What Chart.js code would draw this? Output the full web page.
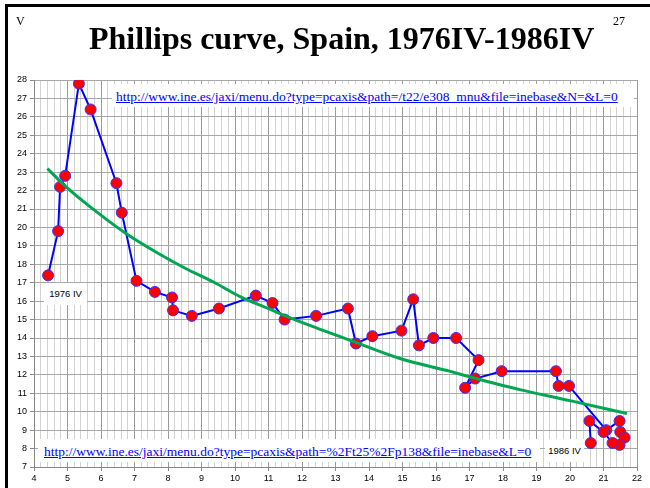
<!DOCTYPE html>
<html>
<head>
<meta charset="utf-8">
<title>Phillips curve, Spain, 1976IV-1986IV</title>
<script src="https://cdn.jsdelivr.net/npm/chart.js@4.4.1/dist/chart.umd.min.js"></script>
<style>
    body { margin: 0; background: #fff; }
    #slide { position: relative; width: 650px; height: 488px; overflow: hidden; background: #fff; }
    #slide canvas { position: absolute; left: 0; top: 0; }
    .frameTop { position: absolute; left: 5px; top: 4px; width: 645px; height: 3px; background: #000; }
    .frameLeft { position: absolute; left: 5px; top: 4px; width: 3px; height: 484px; background: #000; }
    #title { position: absolute; left: 89px; top: 22px; font: bold 32px "Liberation Serif", serif; line-height: 1; white-space: nowrap; color: #000; }
    .corner { position: absolute; top: 15px; font: 12px "Liberation Serif", serif; line-height: 1; color: #000; }
    .urlBox { position: absolute; background: #fff; height: 23px; line-height: 23px; white-space: nowrap; }
    .urlBox a { font: 13.5px "Liberation Serif", serif; color: #0000ff; text-decoration: underline; }
    .tag { position: absolute; background: #fff; text-align: center; font: 9.5px "Liberation Sans", Arial, sans-serif; color: #000; }
</style>
</head>
<body>
<div id="slide">
    <canvas id="phillips" width="650" height="488"></canvas>
    <div class="frameTop"></div>
    <div class="frameLeft"></div>
    <div class="corner" style="left:16px">V</div>
    <div class="corner" style="left:613px">27</div>
    <div id="title">Phillips curve, Spain, 1976IV-1986IV</div>
    <div class="urlBox" style="left:112px; top:84px; width:522px; padding-left:4px; box-sizing:border-box">
        <a href="#">http://www.ine.es/jaxi/menu.do?type=pcaxis&amp;path=/t22/e308_mnu&amp;file=inebase&amp;N=&amp;L=0</a>
    </div>
    <div class="urlBox" style="left:38px; top:439px; width:502px; padding-left:6px; box-sizing:border-box">
        <a href="#">http://www.ine.es/jaxi/menu.do?type=pcaxis&amp;path=%2Ft25%2Fp138&amp;file=inebase&amp;L=0</a>
    </div>
    <div class="tag" style="left:44px; top:283px; width:43px; height:22px; line-height:22px">1976 IV</div>
    <div class="tag" style="left:545px; top:439px; width:39px; height:23px; line-height:23px">1986 IV</div>
</div>
<script>
// unemployment rate (%), quarterly 1976 IV .. 1986 IV, in plotting order
const unemployment = [4.42, 4.72, 4.78, 4.93, 5.34, 5.69, 6.46, 6.62, 7.06, 7.61,
    8.12, 8.15, 8.71, 9.52, 10.62, 11.12, 11.48, 12.42, 13.37, 13.61,
    14.10, 14.97, 15.32, 15.49, 15.92, 16.60, 17.27, 16.87, 17.17, 17.96,
    19.58, 19.66, 19.97, 21.08, 21.48, 21.50, 21.63, 21.48, 21.27, 21.00,
    20.58, 20.62];
// inflation rate (%), same quarters
const inflation = [17.4, 19.8, 22.2, 22.8, 27.8, 26.4, 22.4, 20.8, 17.1, 16.5,
    16.2, 15.5, 15.2, 15.6, 16.3, 15.9, 15.0, 15.2, 15.6, 13.7,
    14.1, 14.4, 16.1, 13.6, 14.0, 14.0, 12.8, 11.3, 11.8, 12.2,
    12.2, 11.4, 11.4, 9.0, 9.5, 8.9, 8.6, 8.2, 8.3, 8.9,
    9.5, 8.3];

// green fitted curve
const fitX = [4.4, 4.9, 5.9, 6.8, 7.7, 8.5, 9.4, 10.2, 11.0, 11.5, 12.5, 13.4, 14.9, 16.4, 17.0, 18.5, 20.0, 21.7];
const fitY = [23.2, 22.3, 20.8, 19.6, 18.6, 17.8, 17.0, 16.2, 15.6, 15.2, 14.5, 13.9, 12.9, 12.2, 11.9, 11.2, 10.6, 9.9];

// axis ranges
const xRange = [4, 22];
const yRange = [7, 28];

const observed = unemployment.map((u, i) => ({x: u, y: inflation[i]}));
const fitted = fitX.map((x, i) => ({x: x, y: fitY[i]}));

function isWhole(v) {
    return Math.abs(v - Math.round(v)) < 1e-6;
}

const tickFont = {family: '"Liberation Sans", Arial, sans-serif', size: 9};

const ctx = document.getElementById('phillips').getContext('2d');
const chart = new Chart(ctx, {
    type: 'scatter',
    data: {
        datasets: [{
            // first dataset is painted on top
            data: fitted,
            showLine: true,
            borderColor: '#00a651',
            borderWidth: 3,
            pointRadius: 0,
            cubicInterpolationMode: 'monotone'
        }, {
            data: observed,
            showLine: true,
            borderColor: '#0000ff',
            borderWidth: 2,
            pointRadius: 5.5,
            pointBackgroundColor: '#ff0000',
            pointBorderColor: '#3333ff',
            pointBorderWidth: 1
        }]
    },
    options: {
        responsive: false,
        animation: false,
        devicePixelRatio: 1,
        layout: {
            padding: {top: 80, right: 13, left: 0, bottom: 0}
        },
        plugins: {
            legend: {display: false},
            tooltip: {enabled: false},
            title: {display: false}
        },
        scales: {
            x: {
                type: 'linear',
                min: xRange[0],
                max: xRange[1],
                afterFit: scale => { scale.height = 21; },
                border: {color: '#888'},
                grid: {
                    color: c => isWhole(c.tick.value) ? '#9a9a9a' : '#d2d2d2',
                    tickColor: c => isWhole(c.tick.value) ? '#888' : 'rgba(0,0,0,0)',
                    tickLength: 4
                },
                ticks: {
                    stepSize: 0.2,
                    autoSkip: false,
                    maxRotation: 0,
                    padding: 2,
                    color: '#000',
                    font: tickFont,
                    callback: v => isWhole(v) ? Math.round(v) : ''
                }
            },
            y: {
                min: yRange[0],
                max: yRange[1],
                afterFit: scale => { scale.width = 34; },
                border: {color: '#888'},
                grid: {
                    color: '#a8a8a8',
                    tickColor: '#888',
                    tickLength: 4
                },
                ticks: {
                    stepSize: 1,
                    padding: 3,
                    color: '#000',
                    font: tickFont
                }
            }
        }
    }
});
</script>
</body>
</html>
